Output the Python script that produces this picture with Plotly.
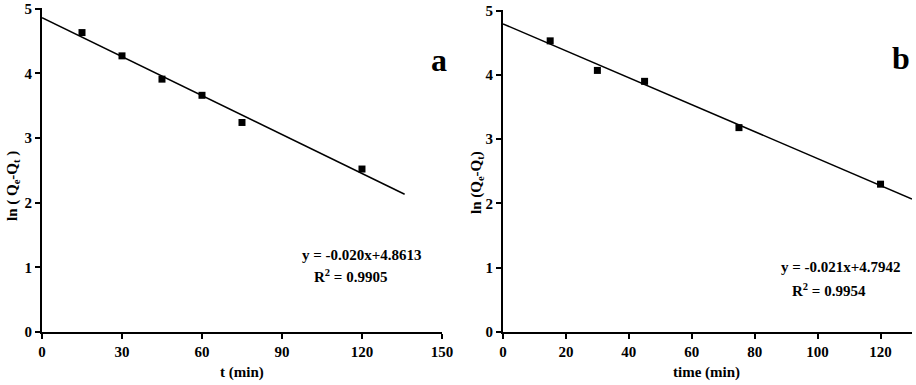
import plotly.graph_objects as go

# panel a
t_a = [15, 30, 45, 60, 75, 120]
lnq_a = [4.63, 4.27, 3.91, 3.66, 3.24, 2.52]
fit_a_x = [0, 136]
fit_a_y = [4.8613, 2.13]

# panel b
t_b = [15, 30, 45, 75, 120]
lnq_b = [4.53, 4.07, 3.90, 3.18, 2.30]
fit_b_x = [0, 130]
fit_b_y = [4.7942, 2.07]

FONT = "Liberation Serif"
W, H = 916, 385

fig = go.Figure()

mk = dict(symbol="square", size=7, color="black")
ln = dict(color="black", width=1.5)

fig.add_trace(go.Scatter(x=fit_a_x, y=fit_a_y, mode="lines", line=ln, xaxis="x", yaxis="y"))
fig.add_trace(go.Scatter(x=t_a, y=lnq_a, mode="markers", marker=mk, xaxis="x", yaxis="y"))
fig.add_trace(go.Scatter(x=fit_b_x, y=fit_b_y, mode="lines", line=ln, xaxis="x2", yaxis="y2"))
fig.add_trace(go.Scatter(x=t_b, y=lnq_b, mode="markers", marker=mk, xaxis="x2", yaxis="y2"))

def px(x):
    return x / W

def py(y):
    return 1 - y / H

axis_common = dict(
    showgrid=False, zeroline=False, showline=True, linecolor="black", linewidth=2,
    ticks="outside", ticklen=5, tickwidth=2, tickcolor="black",
    tickfont=dict(family=FONT, size=15, color="black", weight="bold"),
    ticklabeloverflow="allow", automargin=False,
)

fig.update_layout(
    width=W, height=H, showlegend=False,
    plot_bgcolor="white", paper_bgcolor="white",
    margin=dict(l=0, r=0, t=0, b=0),
    xaxis=dict(domain=[px(42), px(442)], range=[0, 150.01], tickvals=[0, 30, 60, 90, 120, 150],
               anchor="y", **axis_common),
    yaxis=dict(domain=[py(332), py(8)], range=[0, 5.01], tickvals=[0, 1, 2, 3, 4, 5],
               anchor="x", **axis_common),
    xaxis2=dict(domain=[px(503), px(912)], range=[0, 130], tickvals=[0, 20, 40, 60, 80, 100, 120],
                anchor="y2", **axis_common),
    yaxis2=dict(domain=[py(332), py(10)], range=[0, 5.01], tickvals=[0, 1, 2, 3, 4, 5],
                anchor="x2", **axis_common),
)

def note(x, y, text, size=15, angle=0):
    fig.add_annotation(x=px(x), y=py(y), xref="paper", yref="paper", text=text, showarrow=False,
                       textangle=angle, xanchor="center", yanchor="middle",
                       font=dict(family=FONT, size=size, color="black", weight="bold"))

note(242, 372, "t (min)")
note(706, 372, "time (min)")
note(13, 186, "ln ( Q<sub>e</sub>-Q<sub>t</sub> )", angle=-90)
note(477, 182, "ln (Q<sub>e</sub>-Q<sub>t</sub>)", angle=-90)
note(362, 255, "y = -0.020x+4.8613")
note(350, 276, "R<sup>2</sup> = 0.9905")
note(841, 267, "y = -0.021x+4.7942")
note(829, 290, "R<sup>2</sup> = 0.9954")
note(439, 60, "a", size=32)
note(901, 58, "b", size=32)

# drop the default page margin so the figure sits at the window's corner
fig.write_html("out.html", config={"displayModeBar": False},
               post_script="document.body.style.margin='0';")
